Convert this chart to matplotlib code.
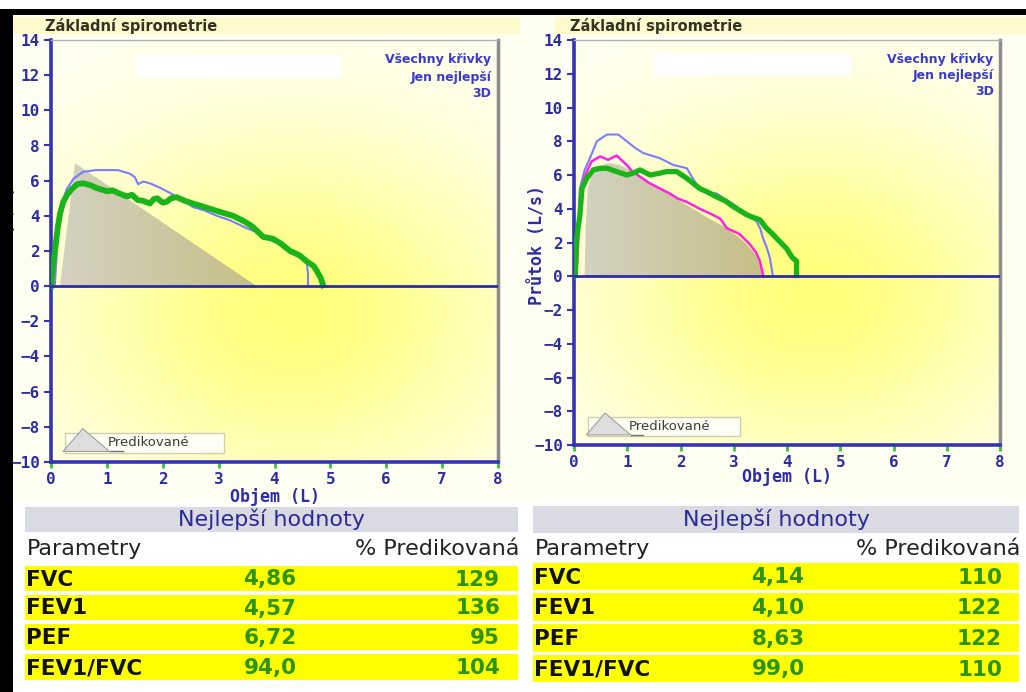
import numpy as np
import matplotlib
matplotlib.use("Agg")
import matplotlib.pyplot as plt
from matplotlib.patches import Rectangle, Polygon
from matplotlib.colors import LinearSegmentedColormap

# ---- data (volume L, flow L/s) ----
pred_l_vol = [0.16, 0.43, 3.68]
pred_l_flow = [0.0, 7.0, 0.0]
blue_l_vol = [0, 0.07, 0.12, 0.16, 0.28, 0.4, 0.57, 0.8, 1.0, 1.2, 1.41, 1.5, 1.56, 1.65,
              1.77, 1.95, 2.13, 2.35, 2.54, 2.75, 2.97, 3.2, 3.5, 3.7, 3.86, 4.1, 4.33, 4.5,
              4.58, 4.6, 4.6]
blue_l_flow = [0, 0.1, 2.8, 4.4, 5.5, 6.1, 6.5, 6.6, 6.6, 6.6, 6.4, 6.2, 5.8, 5.95,
               5.85, 5.6, 5.3, 4.9, 4.5, 4.3, 4.0, 3.75, 3.3, 3.05, 2.7, 2.4, 2.0, 1.6,
               1.25, 0.7, 0.0]
green_l_vol = [0, 0.03, 0.07, 0.12, 0.16, 0.22, 0.29, 0.38, 0.47, 0.57, 0.7, 0.8, 0.9, 1.0,
               1.1, 1.2, 1.36, 1.45, 1.55, 1.65, 1.77, 1.84, 1.9, 2.0, 2.07, 2.15, 2.25, 2.4,
               2.54, 2.7, 2.9, 3.1, 3.26, 3.45, 3.6, 3.7, 3.8, 3.97, 4.1, 4.28, 4.45, 4.58,
               4.7, 4.76, 4.83, 4.87]
green_l_flow = [0, 1.0, 2.0, 3.3, 4.1, 4.8, 5.2, 5.55, 5.8, 5.85, 5.75, 5.6, 5.5, 5.4,
                5.45, 5.3, 5.1, 5.2, 4.9, 4.85, 4.7, 4.95, 5.0, 4.75, 4.8, 5.0, 5.06, 4.85,
                4.7, 4.55, 4.35, 4.15, 4.0, 3.7, 3.4, 3.1, 2.8, 2.7, 2.45, 2.0, 1.75, 1.4,
                1.15, 0.85, 0.45, 0.05]

pred_r_vol = [0.2, 0.22, 0.26, 0.33, 0.43, 0.55, 0.68, 0.85, 0.99, 1.3, 1.61, 1.92, 2.23,
              2.55, 2.87, 3.1, 3.24, 3.4, 3.49, 3.55]
pred_r_flow = [0, 3.0, 5.2, 6.0, 6.4, 6.6, 6.7, 6.6, 6.4, 5.8, 5.2, 4.6, 4.0,
               3.4, 2.85, 2.3, 1.9, 1.3, 0.7, 0.0]
blue_r_vol = [0, 0.05, 0.08, 0.11, 0.2, 0.3, 0.43, 0.62, 0.83, 0.99, 1.15, 1.3, 1.61, 1.86,
              2.12, 2.23, 2.36, 2.5, 2.68, 2.85, 2.98, 3.24, 3.43, 3.5, 3.55, 3.62, 3.68, 3.73]
blue_r_flow = [0, 0.1, 2.5, 5.2, 6.3, 7.0, 8.0, 8.4, 8.4, 8.0, 7.6, 7.3, 7.0, 6.6,
               6.4, 5.8, 5.2, 5.0, 4.9, 4.55, 4.3, 3.7, 3.25, 2.8, 2.25, 1.7, 1.07, 0.1]
mag_r_vol = [0.05, 0.1, 0.16, 0.24, 0.33, 0.49, 0.64, 0.8, 0.99, 1.1, 1.24, 1.4, 1.55, 1.8,
             1.95, 2.12, 2.36, 2.6, 2.75, 2.87, 3.11, 3.3, 3.42, 3.49, 3.55]
mag_r_flow = [0.1, 3.5, 5.5, 6.2, 6.8, 7.1, 6.9, 7.15, 6.6, 6.2, 5.9, 5.55, 5.3, 4.9,
              4.6, 4.4, 4.0, 3.65, 3.4, 2.85, 2.5, 1.9, 1.4, 0.9, 0.1]
green_r_vol = [0, 0.02, 0.05, 0.11, 0.15, 0.24, 0.36, 0.5, 0.62, 0.8, 0.99, 1.1, 1.24, 1.43,
               1.6, 1.74, 1.93, 2.12, 2.36, 2.5, 2.68, 2.85, 2.98, 3.24, 3.35, 3.49, 3.6,
               3.73, 3.85, 3.99, 4.1, 4.18, 4.18]
green_r_flow = [0, 0.1, 2.25, 3.6, 5.2, 5.8, 6.3, 6.4, 6.4, 6.2, 6.0, 6.1, 6.3, 6.0,
                6.1, 6.2, 6.2, 5.8, 5.2, 5.0, 4.7, 4.45, 4.15, 3.65, 3.5, 3.35, 2.9,
                2.5, 2.1, 1.65, 1.1, 0.9, 0.05]

x_ticks = list(range(0, 9))
y_ticks = list(range(-10, 15, 2))

params = ['FVC', 'FEV1', 'PEF', 'FEV1/FVC']
left_values = ['4,86', '4,57', '6,72', '94,0']
left_pct = [129, 136, 95, 104]
right_values = ['4,14', '4,10', '8,63', '99,0']
right_pct = [110, 122, 122, 110]

W, H = 1026, 692
fig = plt.figure(figsize=(W / 100, H / 100), dpi=100, facecolor='white')


def fx(x):
    return x / W


def fy(y):
    return 1 - y / H


def box(x0, y0, x1, y1, color, z=1):
    fig.add_artist(Rectangle((fx(x0), fy(y1)), (x1 - x0) / W, (y1 - y0) / H,
                             transform=fig.transFigure, facecolor=color,
                             edgecolor='none', zorder=z))


navy = '#2c2ca6'
mono = 'DejaVu Sans Mono'

# cream background of the chart area and title bands
box(13, 15, W, 500, '#fffff2', z=-2)
box(13, 17, 520, 34, '#fffacb', z=-1)
box(555, 17, W, 34, '#fffacb', z=-1)
fig.text(fx(45), fy(26), 'Základní spirometrie', fontsize=10.5, fontweight='bold',
         color='#333322', va='center', ha='left', zorder=3)
fig.text(fx(570), fy(26), 'Základní spirometrie', fontsize=10.5, fontweight='bold',
         color='#333322', va='center', ha='left', zorder=3)

bg_cmap = LinearSegmentedColormap.from_list('bg', ['#fffff4', '#ffff7c'])
pred_cmap = LinearSegmentedColormap.from_list('pred', ['#d4d2c4', '#c4bd80'])


def tick_text(v):
    return str(v).replace('-', '\u2212')


def make_panel(rect, curves, pred_vol, pred_flow, cx, cy, leg_box):
    ax = fig.add_axes(rect)
    # radial yellow glow background
    gx, gy = np.meshgrid(np.linspace(0, 8, 200), np.linspace(-10, 14, 200))
    glow = np.exp(-(((gx - cx) / 4.3) ** 2 + ((gy - cy) / 10.5) ** 2) * 1.1)
    ax.imshow(glow, extent=(0, 8, -10, 14), origin='lower', aspect='auto',
              cmap=bg_cmap, vmin=0, vmax=1, zorder=0)
    # predicted area with a horizontal gradient
    poly = Polygon(np.column_stack([pred_vol, pred_flow]), closed=True,
                   facecolor='none', edgecolor='none')
    ax.add_patch(poly)
    grad = np.linspace(0, 1, 256).reshape(1, -1)
    im = ax.imshow(grad, extent=(0, 4, 0, 8), aspect='auto', cmap=pred_cmap, zorder=2)
    im.set_clip_path(poly)
    for vol, flow, color, lw, z in curves:
        ax.plot(vol, flow, color=color, lw=lw, zorder=z, solid_joinstyle='round')
    ax.axhline(0, color=navy, lw=2, zorder=6)
    ax.set_xlim(0, 8)
    ax.set_ylim(-10, 14)
    tick_font = dict(fontfamily=mono, fontweight='bold', fontsize=11.5)
    ax.set_xticks(x_ticks, labels=[tick_text(v) for v in x_ticks], **tick_font)
    ax.set_yticks(y_ticks, labels=[tick_text(v) for v in y_ticks], **tick_font)
    for s in ['left', 'bottom']:
        ax.spines[s].set_color('#3434b8')
        ax.spines[s].set_linewidth(2.6)
    ax.spines['right'].set_color('#8c8c8c')
    ax.spines['right'].set_linewidth(2.5)
    ax.spines['top'].set_color('#b0b0b0')
    ax.spines['top'].set_linewidth(1)
    ax.tick_params(axis='y', color='#3434b8', length=5, width=1.5, pad=3,
                   labelcolor=navy)
    ax.tick_params(axis='x', color='#3cc03c', length=4, width=2, pad=3,
                   labelcolor=navy)
    # blank white box at the top
    ax.add_patch(Rectangle((0.19, 0.91), 0.46, 0.055, transform=ax.transAxes,
                           facecolor='white', edgecolor='none', zorder=7))
    for txt, yy in zip(['Všechny křivky', 'Jen nejlepší', '3D'], [0.953, 0.912, 0.873]):
        ax.text(0.985, yy, txt, transform=ax.transAxes, ha='right', va='center',
                fontsize=9, fontweight='bold', color='#3a3ad0', zorder=8)
    # legend for predicted area
    bx0, by0, bx1, by1 = leg_box
    ax.add_patch(Rectangle((bx0, by0), bx1 - bx0, by1 - by0, transform=ax.transAxes,
                           facecolor='#fffff6', edgecolor='#cfcfb0', lw=1, zorder=7))
    tri = Polygon([(bx0 - 0.004, by0 + 0.003), (bx0 + 0.04, by1 + 0.01),
                   (bx0 + 0.1, by0 + 0.003)], closed=True, transform=ax.transAxes,
                  facecolor='#dedede', edgecolor='#a0a0a0', lw=0.8, zorder=8)
    ax.add_patch(tri)
    ax.plot([bx0 + 0.1, bx0 + 0.13], [by0 + 0.003, by0 + 0.003], transform=ax.transAxes,
            color='#707070', lw=1, zorder=8)
    ax.text(bx0 + 0.095, (by0 + by1) / 2, 'Predikované', transform=ax.transAxes,
            fontsize=9.5, color='#3a3a3a', va='center', ha='left', zorder=9)
    return ax


ax1 = make_panel([fx(51), fy(462), (498 - 51) / W, (462 - 40) / H],
                 [(blue_l_vol, blue_l_flow, '#7b7bff', 1.5, 3),
                  (green_l_vol, green_l_flow, '#19b419', 4.2, 4)],
                 pred_l_vol, pred_l_flow, 4.3, -1.5,
                 (0.031, 0.022, 0.387, 0.069))
ax1.set_xlabel('Objem (L)', fontfamily=mono, fontweight='bold', fontsize=12,
               color=navy, labelpad=1)

ax2 = make_panel([fx(574), fy(445), (1000 - 574) / W, (445 - 40) / H],
                 [(blue_r_vol, blue_r_flow, '#7b7bff', 1.5, 3),
                  (mag_r_vol, mag_r_flow, '#ff22e6', 1.8, 3),
                  (green_r_vol, green_r_flow, '#19b419', 3.8, 4)],
                 pred_r_vol, pred_r_flow, 4.5, -1.0,
                 (0.033, 0.022, 0.39, 0.069))
ax2.set_xlabel('Objem (L)', fontfamily=mono, fontweight='bold', fontsize=12,
               color=navy, labelpad=-1)

fig.text(fx(537), fy(245), 'Průtok (L/s)', rotation=90, ha='center', va='center',
         fontfamily=mono, fontweight='bold', fontsize=12, color=navy, zorder=3)
fig.text(fx(8), fy(245), 'Průtok (L/s)', rotation=90, ha='center', va='center',
         fontfamily=mono, fontweight='bold', fontsize=12, color=navy, zorder=3)


# ---- tables ----
def table(x0, x1, head_y, param_y, rows_y, val_x, pct_x, values, pct):
    box(x0, head_y[0], x1, head_y[1], '#dadae2', z=2)
    fig.text(fx((x0 + x1) / 2), fy(sum(head_y) / 2), 'Nejlepší hodnoty', fontsize=16,
             color='#2a2a98', ha='center', va='center', zorder=3)
    fig.text(fx(x0 + 2), fy(param_y), 'Parametry', fontsize=16, color='#222222',
             ha='left', va='center', zorder=3)
    fig.text(fx(x1 + 1), fy(param_y), '% Predikovaná', fontsize=16, color='#222222',
             ha='right', va='center', zorder=3)
    for (ry0, ry1), name, v, p in zip(rows_y, params, values, pct):
        box(x0, ry0, x1, ry1, '#ffff00', z=2)
        cy = (ry0 + ry1) / 2 + 1
        fig.text(fx(x0 + 1), fy(cy), name, fontsize=15.5, fontweight='bold',
                 color='#111111', ha='left', va='center', zorder=3)
        fig.text(fx(val_x), fy(cy), v, fontsize=15.5, fontweight='bold',
                 color='#2c940a', ha='center', va='center', zorder=3)
        fig.text(fx(pct_x), fy(cy), str(p), fontsize=15.5, fontweight='bold',
                 color='#2c940a', ha='right', va='center', zorder=3)


table(25, 518, (507, 532), 549, [(566, 591), (595, 620), (624, 650), (654, 680)],
      270, 500, left_values, left_pct)
table(533, 1019, (506, 533), 549, [(563, 590), (593, 621), (624, 652), (655, 682)],
      778, 1002, right_values, right_pct)

# black frame of the screenshot
box(0, 9, W, 15, 'black', z=10)
box(0, 9, 13, H, 'black', z=10)

fig.savefig('out.png', dpi=100, facecolor=fig.get_facecolor())
